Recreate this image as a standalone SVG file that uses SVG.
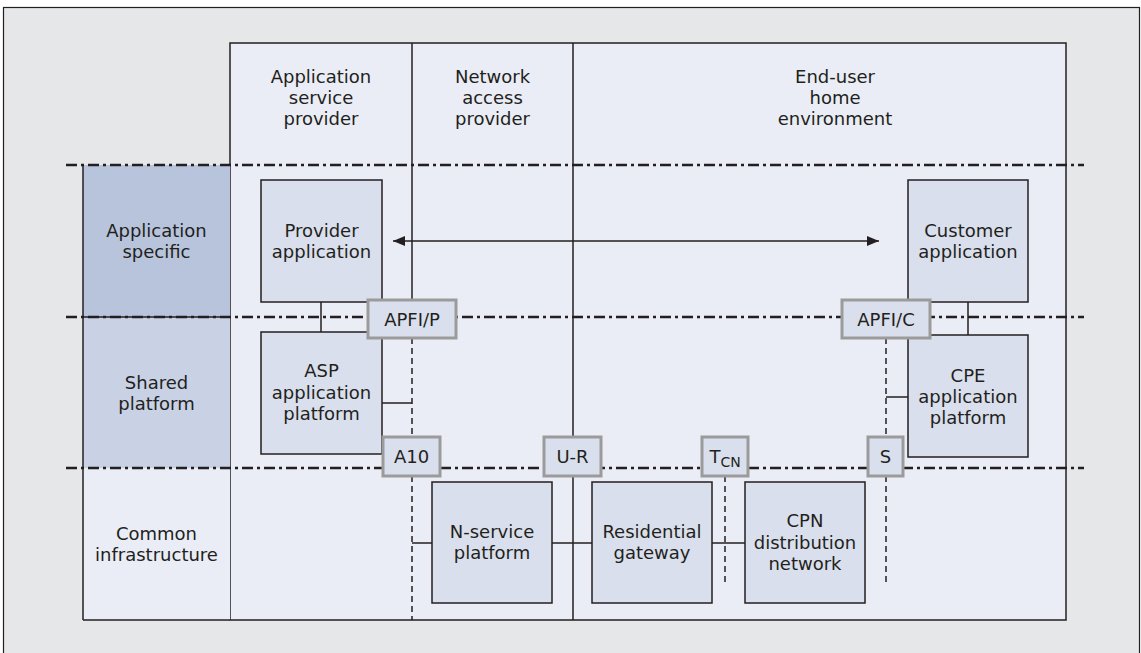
<svg xmlns="http://www.w3.org/2000/svg" width="1141" height="653" viewBox="0 0 1141 653">
<defs>
<style>
text{font-family:"DejaVu Sans","Open Sans","Liberation Sans",sans-serif;font-size:18px;fill:#231f20;text-anchor:middle}
.node{fill:#d9dfec;stroke:#231f20;stroke-width:1.5}
.lbl{fill:#d9dfec;stroke:#9b9b9b;stroke-width:3}
.ln{stroke:#231f20;stroke-width:1.5;fill:none}
.dsh{stroke:#231f20;stroke-width:1.5;fill:none;stroke-dasharray:6 4}
.dd{stroke:#231f20;stroke-width:2.5;fill:none;stroke-dasharray:11 4 3 4}
</style>
<marker id="ah" viewBox="0 0 12 10" refX="12" refY="5" markerWidth="12" markerHeight="10" markerUnits="userSpaceOnUse" orient="auto-start-reverse">
<path d="M0,0 L12,5 L0,10 z" fill="#231f20"/>
</marker>
</defs>
<rect x="3.5" y="7.5" width="1136" height="660" fill="#e6e7e9" stroke="#231f20" stroke-width="1.2"/>
<g id="panel">
<rect x="230" y="43" width="836" height="577" fill="#eaedf5" stroke="#231f20" stroke-width="1.5"/>
<line class="ln" x1="412" y1="43" x2="412" y2="300"/>
<line class="dsh" x1="412" y1="338" x2="412" y2="437"/>
<line class="dsh" x1="412" y1="476" x2="412" y2="620"/>
<line class="ln" x1="573" y1="43" x2="573" y2="620"/>
<text x="321" y="83">Application</text>
<text x="321" y="104">service</text>
<text x="321" y="125">provider</text>
<text x="492.5" y="83">Network</text>
<text x="492.5" y="104">access</text>
<text x="492.5" y="125">provider</text>
<text x="835" y="83">End-user</text>
<text x="835" y="104">home</text>
<text x="835" y="125">environment</text>
</g>
<g id="layers">
<rect x="83" y="165" width="147" height="152" fill="#b8c4dc"/>
<rect x="83" y="317" width="147" height="151" fill="#c9d2e5"/>
<rect x="83" y="468" width="147" height="152" fill="#eaedf5"/>
<line class="ln" x1="83" y1="165" x2="83" y2="620"/>
<line class="ln" x1="83" y1="317" x2="230" y2="317"/>
<line class="ln" x1="83" y1="620" x2="230" y2="620"/>
<text x="156.5" y="237">Application</text>
<text x="156.5" y="258">specific</text>
<text x="156.5" y="389">Shared</text>
<text x="156.5" y="410">platform</text>
<text x="156.5" y="540">Common</text>
<text x="156.5" y="561">infrastructure</text>
</g>
<g id="boundaries">
<line class="dd" x1="66" y1="165" x2="1084" y2="165"/>
<line class="dd" x1="66" y1="317" x2="1084" y2="317"/>
<line class="dd" x1="66" y1="468" x2="1084" y2="468"/>
</g>
<g id="connectors">
<line class="ln" x1="393" y1="241" x2="879" y2="241" marker-start="url(#ah)" marker-end="url(#ah)"/>
<line class="ln" x1="321" y1="302" x2="321" y2="332"/>
<line class="ln" x1="382" y1="403" x2="412" y2="403"/>
<line class="ln" x1="968" y1="302" x2="968" y2="335"/>
<line class="dsh" x1="886" y1="338" x2="886" y2="437"/>
<line class="ln" x1="886" y1="397" x2="908" y2="397"/>
<line class="dsh" x1="886" y1="476" x2="886" y2="583"/>
<line class="dsh" x1="725" y1="476" x2="725" y2="582"/>
<line class="ln" x1="412" y1="543" x2="432" y2="543"/>
<line class="ln" x1="552" y1="543" x2="592" y2="543"/>
<line class="ln" x1="712" y1="543" x2="745" y2="543"/>
</g>
<g id="provider-application">
<rect class="node" x="261" y="180" width="121" height="122"/>
<text x="321.5" y="237">Provider</text>
<text x="321.5" y="258">application</text>
</g>
<g id="asp-platform">
<rect class="node" x="261" y="332" width="121" height="122"/>
<text x="321.5" y="377">ASP</text>
<text x="321.5" y="399">application</text>
<text x="321.5" y="420">platform</text>
</g>
<g id="customer-application">
<rect class="node" x="908" y="180" width="120" height="122"/>
<text x="968" y="237">Customer</text>
<text x="968" y="258">application</text>
</g>
<g id="cpe-platform">
<rect class="node" x="908" y="335" width="120" height="122"/>
<text x="968" y="382">CPE</text>
<text x="968" y="403">application</text>
<text x="968" y="424">platform</text>
</g>
<g id="n-service-platform">
<rect class="node" x="432" y="482" width="120" height="121"/>
<text x="492" y="538">N-service</text>
<text x="492" y="559">platform</text>
</g>
<g id="residential-gateway">
<rect class="node" x="592" y="482" width="120" height="121"/>
<text x="652" y="538">Residential</text>
<text x="652" y="559">gateway</text>
</g>
<g id="cpn-distribution-network">
<rect class="node" x="745" y="482" width="120" height="121"/>
<text x="805" y="527">CPN</text>
<text x="805" y="549">distribution</text>
<text x="805" y="570">network</text>
</g>
<g id="apfi-p">
<rect class="lbl" x="368" y="300" width="88" height="38"/>
<text x="412" y="326">APFI/P</text>
</g>
<g id="apfi-c">
<rect class="lbl" x="842" y="300" width="88" height="38"/>
<text x="886" y="326">APFI/C</text>
</g>
<g id="a10">
<rect class="lbl" x="383" y="437" width="57" height="39"/>
<text x="411.5" y="463">A10</text>
</g>
<g id="u-r">
<rect class="lbl" x="544" y="437" width="57" height="39"/>
<text x="572.5" y="463">U-R</text>
</g>
<g id="t-cn">
<rect class="lbl" x="702" y="437" width="46" height="39"/>
<text x="725" y="463">T<tspan font-size="14" dy="4">CN</tspan></text>
</g>
<g id="s">
<rect class="lbl" x="868" y="437" width="35" height="39"/>
<text x="885.5" y="463">S</text>
</g>
</svg>
